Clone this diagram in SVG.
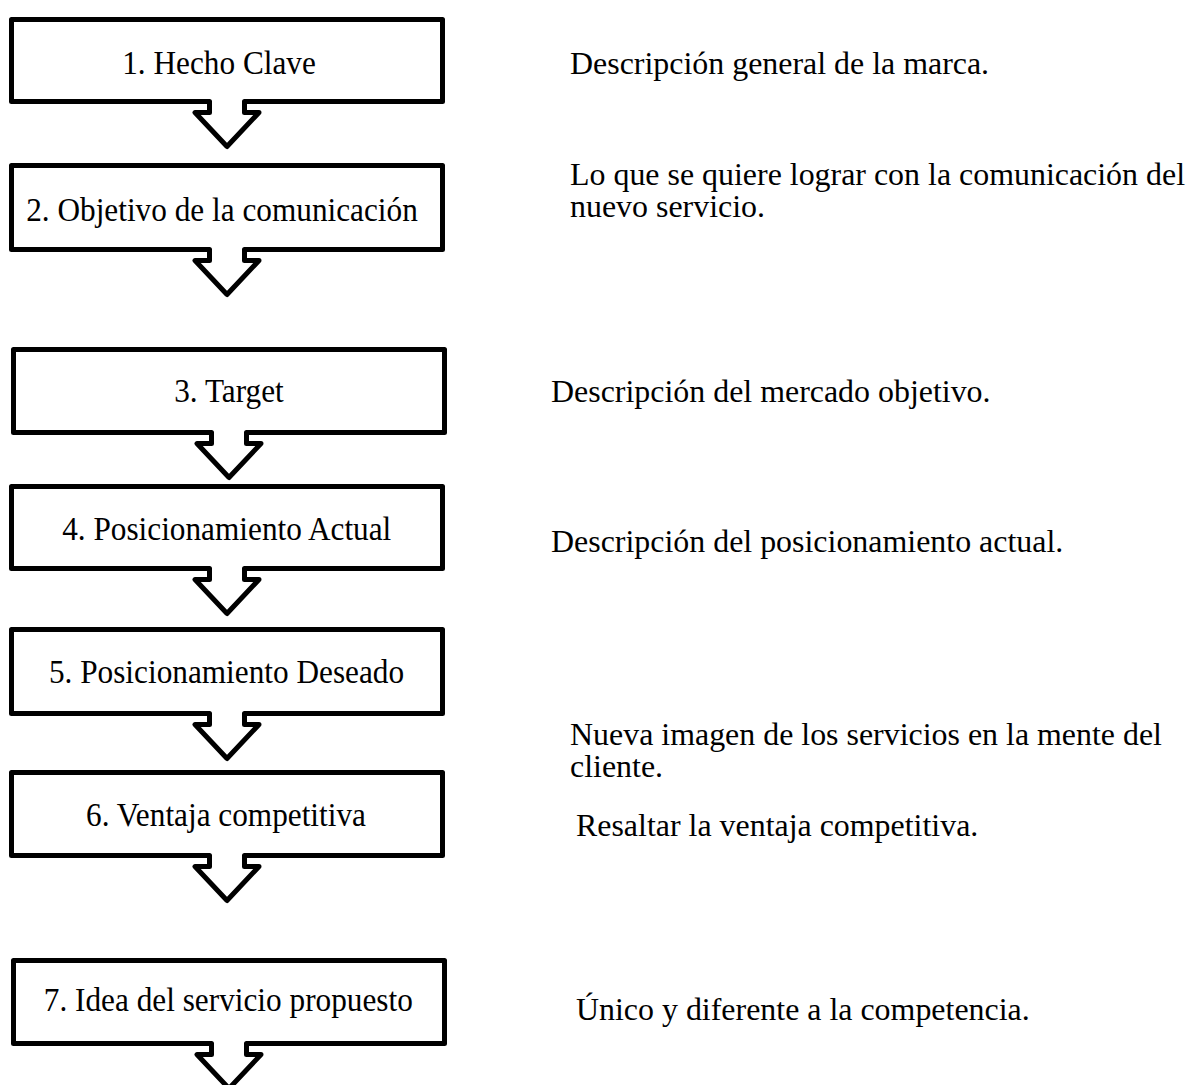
<svg xmlns="http://www.w3.org/2000/svg" width="1189" height="1085" viewBox="0 0 1189 1085">
<style>
.shape{fill:#fff;stroke:#000;stroke-width:5;stroke-linejoin:round}
.lbl{font-family:"Liberation Serif","Times New Roman",serif;font-size:34px;fill:#000;text-anchor:middle}
.desc{font-family:"Liberation Serif","Times New Roman",serif;font-size:31px;fill:#000}
</style>
<rect width="1189" height="1085" fill="#fff"/>
<g id="node1">
<path class="shape" d="M11.5 19.5 H442.5 V101.5 H244.5 V112.5 H259 L227 146.5 L195 112.5 H209.5 V101.5 H11.5 Z"/>
<text class="lbl" transform="translate(219,74) scale(0.92,1)">1. Hecho Clave</text>
</g>
<g id="node2">
<path class="shape" d="M11.5 165.5 H442.5 V249.5 H244.5 V260.5 H259 L227 294.5 L195 260.5 H209.5 V249.5 H11.5 Z"/>
<text class="lbl" transform="translate(222,221) scale(0.92,1)">2. Objetivo de la comunicación</text>
</g>
<g id="node3">
<path class="shape" d="M13.5 349.5 H444.5 V432.5 H246.5 V443.5 H261 L229 477.5 L197 443.5 H211.5 V432.5 H13.5 Z"/>
<text class="lbl" transform="translate(229,402) scale(0.92,1)">3. Target</text>
</g>
<g id="node4">
<path class="shape" d="M11.5 486.5 H442.5 V568.5 H244.5 V579.5 H259 L227 613.5 L195 579.5 H209.5 V568.5 H11.5 Z"/>
<text class="lbl" transform="translate(226.7,540) scale(0.92,1)">4. Posicionamiento Actual</text>
</g>
<g id="node5">
<path class="shape" d="M11.5 629.5 H442.5 V713.5 H244.5 V724.5 H259 L227 758.5 L195 724.5 H209.5 V713.5 H11.5 Z"/>
<text class="lbl" transform="translate(226.5,683) scale(0.92,1)">5. Posicionamiento Deseado</text>
</g>
<g id="node6">
<path class="shape" d="M11.5 772.5 H442.5 V855.5 H244.5 V866.5 H259 L227 900.5 L195 866.5 H209.5 V855.5 H11.5 Z"/>
<text class="lbl" transform="translate(226,826) scale(0.92,1)">6. Ventaja competitiva</text>
</g>
<g id="node7">
<path class="shape" d="M13.5 960.5 H444.5 V1043.5 H246.5 V1054.5 H261 L229 1088.5 L197 1054.5 H211.5 V1043.5 H13.5 Z"/>
<text class="lbl" transform="translate(228.3,1011) scale(0.92,1)">7. Idea del servicio propuesto</text>
</g>
<g id="descriptions">
<text id="desc1" class="desc" transform="translate(570,74) scale(1.03,1)">Descripción general de la marca.</text>
<text id="desc2" class="desc" transform="translate(570,185) scale(1.03,1)"><tspan x="0" y="0">Lo que se quiere lograr con la comunicación del</tspan><tspan x="0" y="32">nuevo servicio.</tspan></text>
<text id="desc3" class="desc" transform="translate(551,402) scale(1.03,1)">Descripción del mercado objetivo.</text>
<text id="desc4" class="desc" transform="translate(551,552) scale(1.03,1)">Descripción del posicionamiento actual.</text>
<text id="desc5" class="desc" transform="translate(570,745) scale(1.03,1)"><tspan x="0" y="0">Nueva imagen de los servicios en la mente del</tspan><tspan x="0" y="32">cliente.</tspan></text>
<text id="desc6" class="desc" transform="translate(576,836) scale(1.03,1)">Resaltar la ventaja competitiva.</text>
<text id="desc7" class="desc" transform="translate(576,1020) scale(1.03,1)">Único y diferente a la competencia.</text>
</g>
</svg>
